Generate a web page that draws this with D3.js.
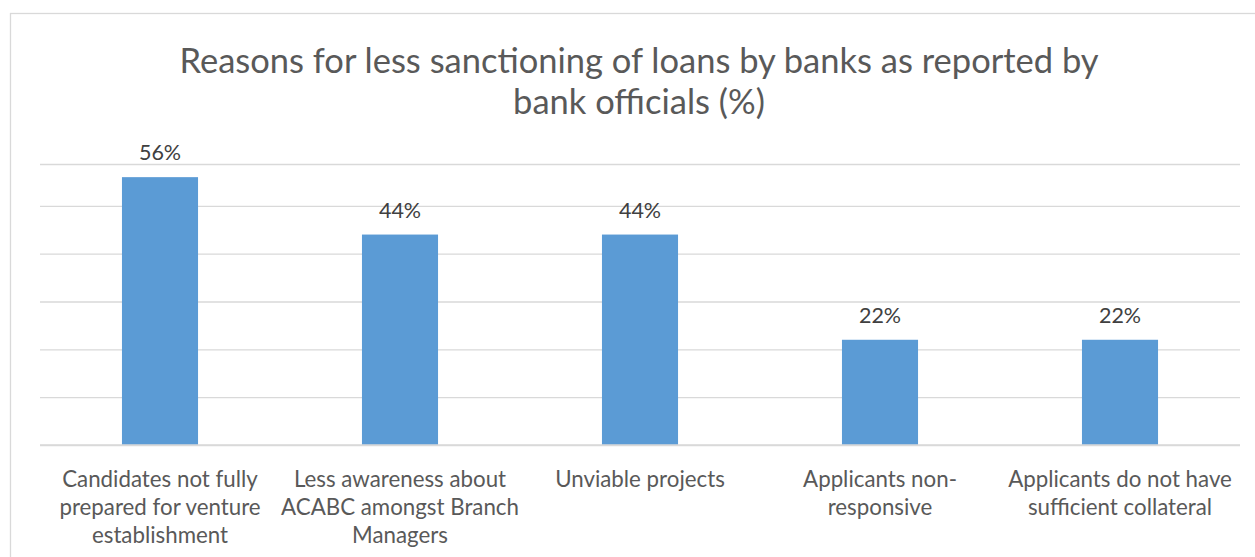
<!DOCTYPE html>
<html>
<head>
<meta charset="utf-8">
<script src="https://cdn.jsdelivr.net/npm/d3@7"></script>
<style>
  html, body { margin: 0; padding: 0; background: #fff; }
  svg text { font-family: Lato, "Open Sans", sans-serif; fill: #595959; }
  svg text.value { fill: #404040; }
</style>
</head>
<body>
<svg id="chart" width="1255" height="557"></svg>
<script>
// Reasons and their shares (%)
const categories = [
  "Candidates not fully prepared for venture establishment",
  "Less awareness about ACABC amongst Branch Managers",
  "Unviable projects",
  "Applicants non-responsive",
  "Applicants do not have sufficient collateral"
];
const categoryLines = [
  ["Candidates not fully", "prepared for venture", "establishment"],
  ["Less awareness about", "ACABC amongst Branch", "Managers"],
  ["Unviable projects"],
  ["Applicants non-", "responsive"],
  ["Applicants do not have", "sufficient collateral"]
];
const shares = [56, 44, 44, 22, 22];
const gridTicks = [0, 10, 20, 30, 40, 50];
const titleLines = ["Reasons for less sanctioning of loans by banks as reported by", "bank officials (%)"];

const svg = d3.select("#chart");
const W = 1255, H = 557;
const plot = { left: 40, right: 1240, top: 164, bottom: 445 };

// chart frame
svg.append("rect")
  .attr("x", 10.5).attr("y", 13.5)
  .attr("width", W + 10).attr("height", H)
  .attr("fill", "#fff").attr("stroke", "#d9d9d9").attr("stroke-width", 1.3);

const x = d3.scaleBand()
  .domain(categories)
  .range([plot.left, plot.right])
  .paddingInner(0.683)
  .paddingOuter(0.3415);

const y = d3.scaleLinear()
  .domain([0, 58.75])
  .range([plot.bottom, plot.top]);

// horizontal gridlines
const grid = svg.append("g")
  .attr("transform", `translate(${plot.left},0)`)
  .call(d3.axisLeft(y).tickValues(gridTicks.concat([y.domain()[1]]))
    .tickSize(-(plot.right - plot.left)).tickFormat(""));
grid.select(".domain").remove();
grid.selectAll(".tick line").attr("stroke", "#d9d9d9").attr("stroke-width", 1.3);

// bars
svg.append("g").selectAll("rect")
  .data(shares)
  .join("rect")
  .attr("x", (d, i) => x(categories[i]))
  .attr("y", d => y(d))
  .attr("width", x.bandwidth())
  .attr("height", d => y(0) - y(d))
  .attr("fill", "#5b9bd5");

// baseline axis
svg.append("line")
  .attr("x1", plot.left).attr("x2", plot.right)
  .attr("y1", y(0)).attr("y2", y(0))
  .attr("stroke", "#d9d9d9").attr("stroke-width", 1.3);

// value labels
svg.append("g").selectAll("text")
  .data(shares)
  .join("text")
  .attr("class", "value")
  .attr("x", (d, i) => x(categories[i]) + x.bandwidth() / 2)
  .attr("y", d => y(d) - 17)
  .attr("text-anchor", "middle")
  .style("font-size", "21.5px")
  .text(d => d + "%");

// category labels
const xl = svg.append("g").selectAll("text")
  .data(categories)
  .join("text")
  .attr("x", d => x(d) + x.bandwidth() / 2)
  .attr("y", 487)
  .attr("text-anchor", "middle")
  .style("font-size", "22.3px");
xl.each(function(d, i) {
  d3.select(this).selectAll("tspan")
    .data(categoryLines[i])
    .join("tspan")
    .attr("x", x(d) + x.bandwidth() / 2)
    .attr("dy", (t, j) => j === 0 ? 0 : 28)
    .text(t => t);
});

// title
svg.append("text")
  .attr("x", 639).attr("y", 73)
  .attr("text-anchor", "middle")
  .style("font-size", "34.5px")
  .selectAll("tspan")
  .data(titleLines)
  .join("tspan")
  .attr("x", 639)
  .attr("dy", (t, j) => j === 0 ? 0 : 41)
  .text(t => t);
</script>
</body>
</html>
